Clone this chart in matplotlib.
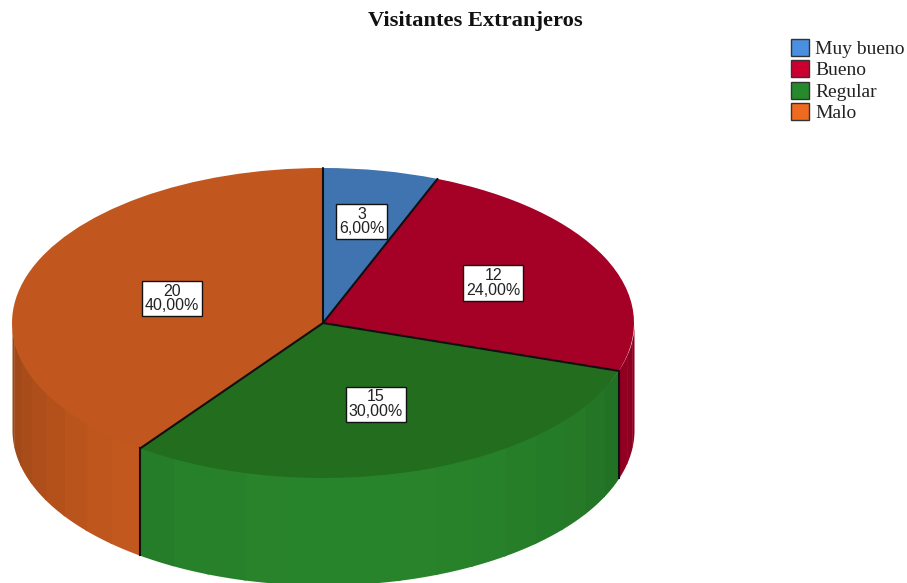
import numpy as np
import matplotlib
matplotlib.use("Agg")
import matplotlib.pyplot as plt
from matplotlib.patches import Patch

title = "Visitantes Extranjeros"
categories = ["Muy bueno", "Bueno", "Regular", "Malo"]
counts = [3, 12, 15, 20]
percent_labels = ["6,00%", "24,00%", "30,00%", "40,00%"]
top_colors = ["#3F74B0", "#A50026", "#236E1E", "#C1561F"]
wall_colors = ["#3F74B0", "#AE0028", "#28842B", "#D25F20"]
legend_colors = ["#4A8FE0", "#CC0030", "#268A2C", "#EE6A20"]
label_radii = [0.666, 0.605, 0.55, 0.51]

W, H = 907, 583
CX, CY, RX, RY, DEPTH = 323, 323, 311, 155, 107

fig = plt.figure(figsize=(W / 100, H / 100), dpi=100, facecolor="white")
ax = fig.add_axes([0, 0, 1, 1])

wedges, _ = ax.pie(counts, colors=top_colors, startangle=90, counterclock=False,
                   radius=1, wedgeprops=dict(linewidth=0, zorder=3))
ax.set_aspect("auto")
ax.set_xlim(-CX / RX, (W - CX) / RX)
ax.set_ylim((CY - H) / RY, CY / RY)
ax.axis("off")

d = DEPTH / RY
fracs = np.array(counts, dtype=float) / sum(counts)
edges = np.concatenate([[0], np.cumsum(fracs)]) * 360  # clockwise from top


def shade(theta):
    return 0.75 + 0.25 * np.cos(np.radians(theta - 175))


# outer wall (front half only), as overlapping strips of changing brightness
for i in range(len(counts)):
    a0, a1 = max(edges[i], 90), min(edges[i + 1], 270)
    if a1 <= a0:
        continue
    n = max(1, int(round((a1 - a0) / 7)))
    bounds = np.linspace(a0, a1, n + 1)
    base = np.array(matplotlib.colors.to_rgb(wall_colors[i]))
    for s0, s1 in zip(bounds[:-1], bounds[1:]):
        t = np.radians(np.linspace(s0, min(s1 + 0.5, a1), 12))
        c = np.clip(base * shade((s0 + s1) / 2), 0, 1)
        ax.fill_between(np.sin(t), np.cos(t) * 0.97, np.cos(t) - d, color=c, lw=0, zorder=2)

# radial slice borders on the top face and vertical borders on the wall
for e in edges[:-1]:
    t = np.radians(e)
    x, y = np.sin(t), np.cos(t)
    ax.plot([0, x], [0, y], color="#101010", lw=1.5, zorder=4, solid_capstyle="round")
    if 90 < e < 270:
        ax.plot([x, x], [y, y - d], color="#101010", lw=1.5, zorder=4)

# value labels
for i, (v, p) in enumerate(zip(counts, percent_labels)):
    t = np.radians((edges[i] + edges[i + 1]) / 2)
    r = label_radii[i]
    ax.text(r * np.sin(t), r * np.cos(t), f"{v}\n{p}", ha="center", va="center",
            family="Liberation Sans", fontsize=11.5, color="#222222", linespacing=0.95,
            zorder=6, bbox=dict(boxstyle="square,pad=0.18", fc="white", ec="#111111", lw=1))

fig.text(475 / W, 1 - 21 / H, title, ha="center", va="center",
         family="Liberation Serif", fontweight="bold", fontsize=16.2, color="#111111")

handles = [Patch(facecolor=c, edgecolor="#333333", lw=1, label=l)
           for c, l in zip(legend_colors, categories)]
fig.legend(handles=handles, loc="upper left", bbox_to_anchor=(789 / W, 1 - 37 / H),
           frameon=False, borderpad=0.1, borderaxespad=0, handlelength=0.95, handleheight=0.95,
           handletextpad=0.3, labelspacing=0.12, prop=dict(family="Liberation Serif", size=14),
           labelcolor="#222222")

fig.savefig("out.png", dpi=100)
